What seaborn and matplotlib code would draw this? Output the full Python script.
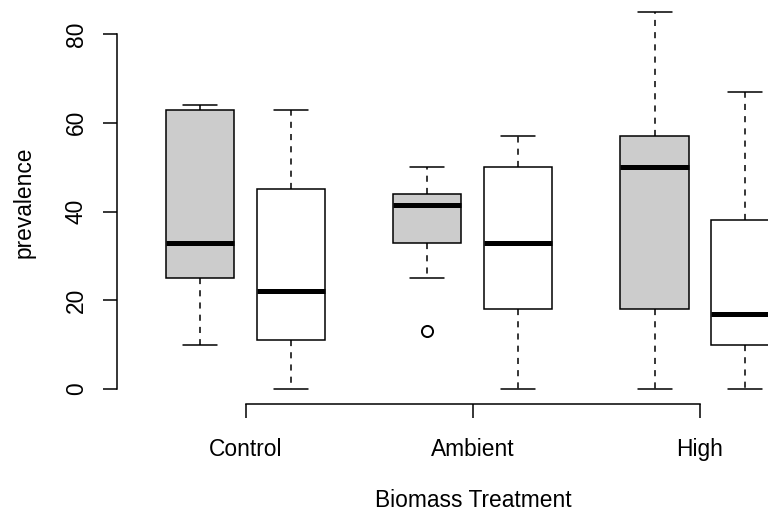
import numpy as np
import pandas as pd
import matplotlib
matplotlib.use("Agg")
import matplotlib.pyplot as plt
import seaborn as sns

# ---- data (five-number summaries per box) ----
treatments = ["Control", "Ambient", "High"]
groups = ["grey", "white"]
# order: (treatment, group)
box_treat = ["Control", "Control", "Ambient", "Ambient", "High", "High"]
box_group = ["grey", "white", "grey", "white", "grey", "white"]
whisk_lo = [10, 0, 25, 0, 0, 0]
q1_vals = [25, 11, 33, 18, 18, 10]
med_vals = [33, 22, 41.5, 33, 50, 17]
q3_vals = [63, 45, 44, 50, 57, 38]
whisk_hi = [64, 63, 50, 57, 85, 67]
outliers = [[], [], [13], [], [], []]

y_ticks = [0, 20, 40, 60, 80]
x_label = "Biomass Treatment"
y_label = "prevalence"

# Build a long table whose quartiles / whiskers reproduce each summary
rows = []
for t, g, lo, a, m, b, hi, out in zip(box_treat, box_group, whisk_lo, q1_vals,
                                      med_vals, q3_vals, whisk_hi, outliers):
    vals = list(out) + [lo] * 4 + [a] * 4 + [m] * 4 + [b] * 4 + [hi] * 4
    for v in vals:
        rows.append({"treatment": t, "group": g, "prevalence": v})
df = pd.DataFrame(rows)

sns.set_style("ticks")
plt.rcParams["font.family"] = ["Liberation Sans", "DejaVu Sans"]
plt.rcParams["text.color"] = "black"
plt.rcParams["axes.labelcolor"] = "black"

fig = plt.figure(figsize=(7.68, 5.12), dpi=100)
W, H = 768, 512
ax = fig.add_axes([117 / W, (H - 404) / H, (768 - 117) / W, 404 / H])

lw = 1.1
fs = 16.4
sns.boxplot(
    data=df, x="treatment", y="prevalence", hue="group",
    order=treatments, hue_order=groups,
    palette={"grey": "#cccccc", "white": "#ffffff"},
    saturation=1, width=0.8, gap=0.25, linewidth=lw, linecolor="black",
    whis=1.5, legend=False, ax=ax,
    medianprops=dict(color="black", linewidth=3.6, solid_capstyle="butt"),
    whiskerprops=dict(color="black", linewidth=lw, linestyle=(0, (4, 4))),
    capprops=dict(color="black", linewidth=lw),
    boxprops=dict(edgecolor="black", linewidth=lw),
    flierprops=dict(marker="o", markersize=8, markerfacecolor="none",
                    markeredgecolor="black", markeredgewidth=1.4),
)

ax.set_xlim(-0.5666, 2.2994)
ax.set_ylim(-3.38, 87.7)
ax.set_yticks(y_ticks)
ax.set_yticklabels([str(v) for v in y_ticks])

for s in ["top", "right"]:
    ax.spines[s].set_visible(False)
ax.spines["left"].set_bounds(0, 80)
ax.spines["bottom"].set_bounds(0, 2)
for s in ["left", "bottom"]:
    ax.spines[s].set_linewidth(lw)
    ax.spines[s].set_color("black")

ax.tick_params(axis="both", direction="out", length=10, width=lw,
               colors="black", labelsize=fs)
ax.tick_params(axis="x", pad=14.5)
ax.tick_params(axis="y", pad=11)
plt.setp(ax.get_yticklabels(), rotation=90, va="center")

ax.set_xlabel(x_label, fontsize=fs, color="black")
ax.set_ylabel(y_label, fontsize=fs, color="black")
ax.xaxis.set_label_coords((473 - 117) / 651, -0.211)
ax.yaxis.set_label_coords((36 - 117) / 651, 0.5)

fig.savefig("out.png", dpi=100)
